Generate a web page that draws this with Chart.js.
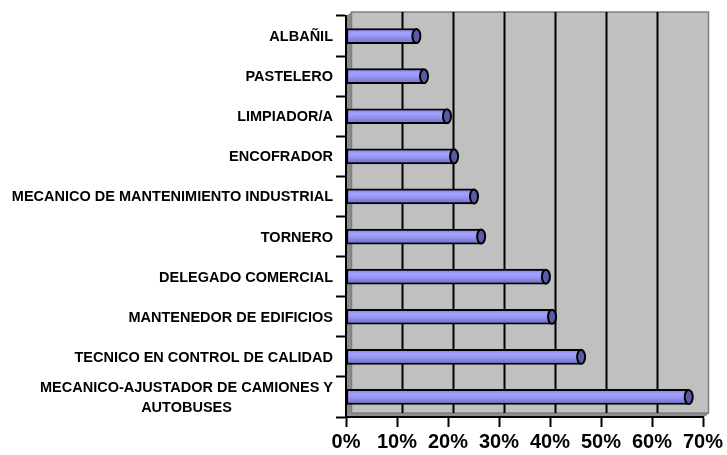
<!DOCTYPE html>
<html>
<head>
<meta charset="utf-8">
<script src="https://cdn.jsdelivr.net/npm/chart.js@4.4.1/dist/chart.umd.min.js"></script>
<style>
  html, body { margin: 0; padding: 0; background: #fff; }
  #caja { width: 727px; height: 455px; }
</style>
</head>
<body>
<div id="caja"><canvas id="grafico" width="727" height="455"></canvas></div>
<script>
// datos (de arriba a abajo)
const categorias = [
  'ALBAÑIL',
  'PASTELERO',
  'LIMPIADOR/A',
  'ENCOFRADOR',
  'MECANICO DE MANTENIMIENTO INDUSTRIAL',
  'TORNERO',
  'DELEGADO COMERCIAL',
  'MANTENEDOR DE EDIFICIOS',
  'TECNICO EN CONTROL DE CALIDAD',
  ['MECANICO-AJUSTADOR DE CAMIONES Y', 'AUTOBUSES']
];
const porcentajes = [13.8, 15.3, 19.8, 21.2, 25.1, 26.5, 39.2, 40.4, 46.1, 67.2];
const ticksX = [0, 10, 20, 30, 40, 50, 60, 70];

const FUENTE = '"Liberation Sans", Arial, sans-serif';
const PROF_X = 5.5, PROF_Y = 4; // profundidad del efecto 3D

// paredes grises del fondo, suelo y lineas de division
const fondo3D = {
  id: 'fondo3D',
  beforeDraw(chart) {
    const { ctx, chartArea: a, scales } = chart;
    const L = a.left, R = a.right, T = a.top, B = a.bottom;
    ctx.save();
    // pared izquierda
    ctx.fillStyle = '#8c8c8c';
    ctx.beginPath();
    ctx.moveTo(L, T); ctx.lineTo(L + PROF_X, T - PROF_Y);
    ctx.lineTo(L + PROF_X, B - PROF_Y); ctx.lineTo(L, B);
    ctx.closePath(); ctx.fill();
    // suelo
    ctx.fillStyle = '#8c8c8c';
    ctx.beginPath();
    ctx.moveTo(L, B); ctx.lineTo(L + PROF_X, B - PROF_Y);
    ctx.lineTo(R + PROF_X, B - PROF_Y); ctx.lineTo(R, B);
    ctx.closePath(); ctx.fill();
    // pared del fondo
    ctx.fillStyle = '#c0c0c0';
    ctx.fillRect(L + PROF_X, T - PROF_Y, R - L, B - T);
    ctx.strokeStyle = '#808080';
    ctx.lineWidth = 1.5;
    ctx.strokeRect(L + PROF_X, T - PROF_Y, R - L, B - T);
    ctx.beginPath();
    ctx.moveTo(R, B); ctx.lineTo(R + PROF_X, B - PROF_Y);
    ctx.stroke();
    // lineas verticales
    ctx.strokeStyle = '#000';
    ctx.lineWidth = 2;
    ticksX.slice(1, -1).forEach(v => {
      const x = scales.x.getPixelForValue(v) + PROF_X;
      ctx.beginPath();
      ctx.moveTo(x, T - PROF_Y);
      ctx.lineTo(x, B - PROF_Y);
      ctx.stroke();
    });
    ctx.restore();
  }
};

// brillo del cilindro y tapa eliptica
const cilindros = {
  id: 'cilindros',
  afterDatasetsDraw(chart) {
    const ctx = chart.ctx;
    const meta = chart.getDatasetMeta(0);
    ctx.save();
    meta.data.forEach(bar => {
      const top = bar.y - bar.height / 2, h = bar.height;
      const x0 = Math.min(bar.base, bar.x), x1 = Math.max(bar.base, bar.x);
      const g = ctx.createLinearGradient(0, top, 0, top + h);
      g.addColorStop(0, '#7a7ad8');
      g.addColorStop(0.3, '#a4a4ff');
      g.addColorStop(0.55, '#9494f2');
      g.addColorStop(1, '#6a6ac2');
      ctx.fillStyle = g;
      ctx.fillRect(x0 + 2, top + 2, x1 - x0 - 2, h - 4);
      // tapa
      ctx.beginPath();
      ctx.ellipse(bar.x, bar.y, 4, h / 2 - 0.5, 0, 0, Math.PI * 2);
      ctx.fillStyle = '#5a5aa6';
      ctx.fill();
      ctx.lineWidth = 2;
      ctx.strokeStyle = '#000';
      ctx.stroke();
    });
    ctx.restore();
  }
};

// etiquetas de categoria (lineas centradas entre si, bloque alineado a la derecha)
const etiquetas = {
  id: 'etiquetas',
  afterDraw(chart) {
    const { ctx, scales } = chart;
    const derecha = chart.chartArea.left - 13;
    ctx.save();
    ctx.font = 'bold 14.5px ' + FUENTE;
    ctx.fillStyle = '#000';
    ctx.textAlign = 'center';
    ctx.textBaseline = 'middle';
    categorias.forEach((cat, i) => {
      const lineas = Array.isArray(cat) ? cat : [cat];
      const ancho = Math.max(...lineas.map(l => ctx.measureText(l).width));
      const yc = scales.y.getPixelForValue(i) + 1;
      const x = derecha - ancho / 2;
      lineas.forEach((l, k) => {
        ctx.fillText(l, x, yc + (k - (lineas.length - 1) / 2) * 20);
      });
    });
    ctx.restore();
  }
};

new Chart(document.getElementById('grafico'), {
  type: 'bar',
  data: {
    labels: categorias,
    datasets: [{
      data: porcentajes,
      backgroundColor: '#9090ee',
      borderColor: '#000',
      borderWidth: 2,
      borderSkipped: false,
      barThickness: 15
    }]
  },
  options: {
    indexAxis: 'y',
    responsive: false,
    animation: false,
    devicePixelRatio: 1,
    layout: { padding: { left: 0, right: 24, top: 16, bottom: 0 } },
    plugins: { legend: { display: false }, tooltip: { enabled: false } },
    scales: {
      x: {
        min: 0, max: 70,
        afterFit: s => { s.height = 38; },
        afterBuildTicks: s => { s.ticks = ticksX.map(v => ({ value: v })); },
        grid: { drawOnChartArea: false, drawTicks: true, tickLength: 10, tickColor: '#000', tickWidth: 2 },
        border: { display: true, color: '#000', width: 2 },
        ticks: {
          color: '#000',
          padding: 3,
          font: { family: FUENTE, size: 20, weight: 'bold' },
          callback: v => v + '%'
        }
      },
      y: {
        afterFit: s => { s.width = 346; },
        grid: { drawOnChartArea: false, drawTicks: true, tickLength: 10, tickColor: '#000', tickWidth: 2 },
        border: { display: true, color: '#000', width: 2 },
        ticks: { display: false }
      }
    }
  },
  plugins: [fondo3D, cilindros, etiquetas]
});
</script>
</body>
</html>
